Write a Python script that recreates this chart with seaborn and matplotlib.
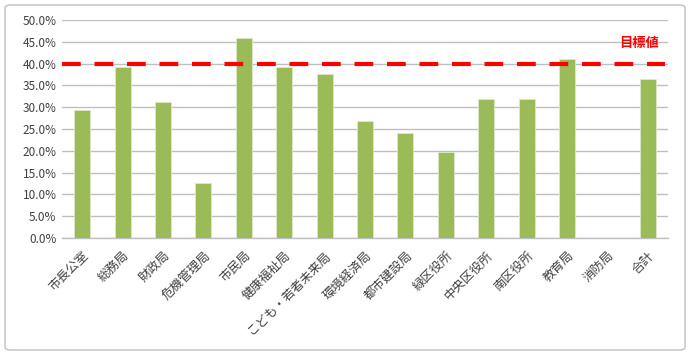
import matplotlib
matplotlib.use("Agg")
import matplotlib.pyplot as plt
import seaborn as sns
import pandas as pd
from matplotlib.patches import FancyBboxPatch
from matplotlib.ticker import FuncFormatter, MultipleLocator

categories = ["市長公室", "総務局", "財政局", "危機管理局", "市民局", "健康福祉局",
              "こども・若者未来局", "環境経済局", "都市建設局", "緑区役所", "中央区役所",
              "南区役所", "教育局", "消防局", "合計"]
values = [29.4, 39.3, 31.2, 12.7, 45.8, 39.2, 37.6, 26.9, 24.0, 19.8, 31.8, 31.8, 41.0, 0.0, 36.5]
target = 40.0
target_label = "目標値"

sns.set_theme(style="white")
plt.rcParams['font.family'] = ['Noto Sans CJK JP', 'DejaVu Sans']

df = pd.DataFrame({"cat": categories, "val": values})

fig = plt.figure(figsize=(6.9, 3.55), dpi=100)
ax = fig.add_axes([62/690, 1-238/355, (668-62)/690, (238-20)/355])

sns.barplot(data=df, x="cat", y="val", color="#9BBB59", width=0.4, saturation=1,
            edgecolor="#DDE8C8", linewidth=0.6, ax=ax, zorder=3)

ax.set_ylim(0, 50)
ax.set_xlim(-0.5, len(categories) - 0.5)
ax.yaxis.set_major_locator(MultipleLocator(5))
ax.yaxis.set_major_formatter(FuncFormatter(lambda v, p: f"{v:.1f}%"))
ax.grid(axis="y", color="#BFBFBF", linewidth=1.0, zorder=0)
ax.set_axisbelow(True)
for s in ["top", "right", "left"]:
    ax.spines[s].set_visible(False)
ax.spines["bottom"].set_color("#BFBFBF")
ax.spines["bottom"].set_linewidth(1.0)
ax.set_xlabel("")
ax.set_ylabel("")
ax.tick_params(axis="y", labelsize=8.5, colors="#404040", length=0, pad=4)
ax.tick_params(axis="x", labelsize=9, colors="#404040", length=0, pad=8)
plt.setp(ax.get_xticklabels(), rotation=45, ha="right", rotation_mode="anchor")

ax.axhline(target, color="#FF0000", linewidth=3.0, dashes=(4.5, 3.3), zorder=4,
           xmin=0, xmax=0.995)
ax.text(len(categories) - 0.73, 44.7, target_label, color="#FF0000", fontsize=9.5,
        fontweight="bold", ha="right", va="center")

border = FancyBboxPatch((5/690, 5/355), 680/690, 345/355,
                        boxstyle="round,pad=0,rounding_size=0.008",
                        transform=fig.transFigure, fill=False,
                        edgecolor="#BFBFBF", linewidth=1.0)
fig.patches.append(border)

fig.savefig("out.png", dpi=100)
